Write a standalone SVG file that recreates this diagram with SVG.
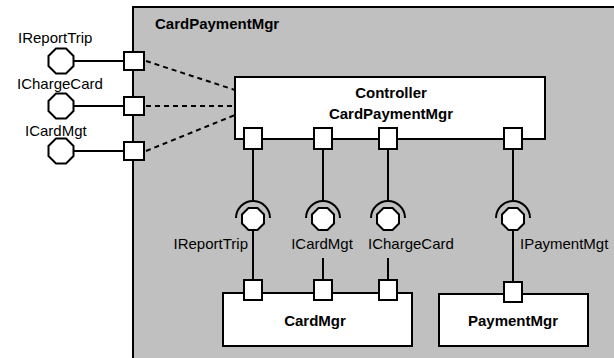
<svg xmlns="http://www.w3.org/2000/svg" width="614" height="358" viewBox="0 0 614 358">
<defs>
<style>
.box{fill:#fff;stroke:#000;stroke-width:2}
.port{fill:#fff;stroke:#000;stroke-width:2}
.ln{stroke:#000;stroke-width:2;fill:none}
.dash{stroke:#000;stroke-width:2;fill:none;stroke-dasharray:5 4}
.ball{fill:#fff;stroke:#000;stroke-width:2}
.t{font-family:"Liberation Sans",Arial,sans-serif;font-size:15px;fill:#000}
.b{font-weight:bold}
</style>
<polygon id="oct12" points="5,-12.5 12.5,-5 12.5,5 5,12.5 -5,12.5 -12.5,5 -12.5,-5 -5,-12.5" class="ball"/>
<polygon id="oct11" points="4.5,-11 11,-4.5 11,4.5 4.5,11 -4.5,11 -11,4.5 -11,-4.5 -4.5,-11" class="ball"/>
</defs>
<rect width="614" height="358" fill="#fff"/>
<g id="CardPaymentMgr">
<rect x="133" y="7" width="500" height="370" fill="#c0c0c0" stroke="#000" stroke-width="2"/>
<text class="t b" x="155" y="29">CardPaymentMgr</text>
</g>
<g id="Controller">
<rect class="box" x="235" y="77" width="310" height="62"/>
<text class="t b" x="391" y="98" text-anchor="middle">Controller</text>
<text class="t b" x="391" y="119" text-anchor="middle">CardPaymentMgr</text>
</g>
<g id="CardMgr">
<rect class="box" x="223" y="293" width="189" height="53"/>
<text class="t b" x="315" y="326" text-anchor="middle">CardMgr</text>
</g>
<g id="PaymentMgr">
<rect class="box" x="439" y="294" width="149" height="52"/>
<text class="t b" x="513" y="326" text-anchor="middle">PaymentMgr</text>
</g>
<g id="connectors">
<line class="ln" x1="73" y1="61" x2="124" y2="61"/>
<line class="ln" x1="73" y1="106" x2="124" y2="106"/>
<line class="ln" x1="73" y1="151" x2="124" y2="151"/>
<line class="dash" x1="146" y1="61" x2="235" y2="90"/>
<line class="dash" x1="146" y1="106" x2="235" y2="106"/>
<line class="dash" x1="146" y1="151" x2="235" y2="115"/>
<line class="ln" x1="253" y1="149" x2="253" y2="200"/>
<line class="ln" x1="323" y1="149" x2="323" y2="200"/>
<line class="ln" x1="388" y1="149" x2="388" y2="200"/>
<line class="ln" x1="513" y1="149" x2="513" y2="200"/>
<line class="ln" x1="253" y1="230" x2="253" y2="281"/>
<line class="ln" x1="323" y1="258" x2="323" y2="281"/>
<line class="ln" x1="388" y1="258" x2="388" y2="281"/>
<line class="ln" x1="513" y1="230" x2="513" y2="283"/>
</g>
<g id="ports">
<rect class="port" x="124" y="52" width="20" height="18"/>
<rect class="port" x="124" y="97" width="20" height="18"/>
<rect class="port" x="124" y="142" width="20" height="18"/>
<rect class="port" x="244" y="128" width="18" height="21"/>
<rect class="port" x="314" y="128" width="18" height="21"/>
<rect class="port" x="379" y="128" width="18" height="21"/>
<rect class="port" x="504" y="128" width="18" height="21"/>
<rect class="port" x="244" y="280" width="18" height="20"/>
<rect class="port" x="314" y="280" width="18" height="20"/>
<rect class="port" x="379" y="280" width="18" height="20"/>
<rect class="port" x="504" y="282" width="18" height="20"/>
</g>
<g id="IReportTrip_ext">
<use href="#oct12" x="61" y="61"/>
<text class="t" x="18" y="43">IReportTrip</text>
</g>
<g id="IChargeCard_ext">
<use href="#oct12" x="61" y="106"/>
<text class="t" x="17" y="89">IChargeCard</text>
</g>
<g id="ICardMgt_ext">
<use href="#oct12" x="61" y="151"/>
<text class="t" x="25" y="136">ICardMgt</text>
</g>
<g id="IReportTrip_int">
<path class="ln" d="M236,218 A17,17 0 0 1 270,218"/>
<use href="#oct11" x="253" y="219"/>
<text class="t" x="248" y="249" text-anchor="end">IReportTrip</text>
</g>
<g id="ICardMgt_int">
<path class="ln" d="M306,218 A17,17 0 0 1 340,218"/>
<use href="#oct11" x="323" y="219"/>
<text class="t" x="322" y="249" text-anchor="middle">ICardMgt</text>
</g>
<g id="IChargeCard_int">
<path class="ln" d="M371,218 A17,17 0 0 1 405,218"/>
<use href="#oct11" x="388" y="219"/>
<text class="t" x="368" y="249">IChargeCard</text>
</g>
<g id="IPaymentMgt_int">
<path class="ln" d="M496,218 A17,17 0 0 1 530,218"/>
<use href="#oct11" x="513" y="219"/>
<text class="t" x="520" y="249">IPaymentMgt</text>
</g>
</svg>
